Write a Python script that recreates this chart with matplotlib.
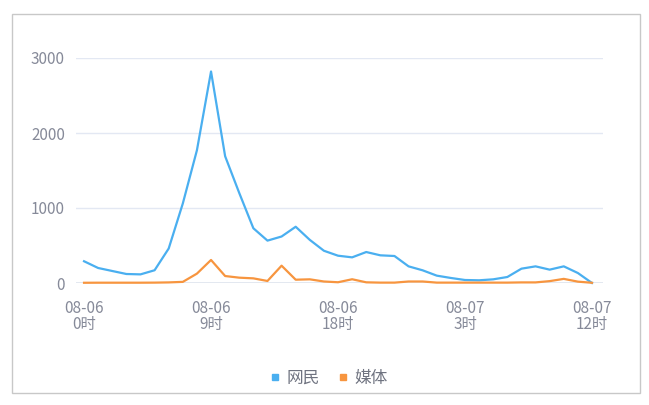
import matplotlib
matplotlib.use("Agg")
import matplotlib.pyplot as plt
from matplotlib.lines import Line2D
from matplotlib.patches import Rectangle

plt.rcParams['font.family'] = ['Noto Sans CJK SC', 'DejaVu Sans']

# hourly counts, 08-06 0时 .. 08-07 12时
hours = list(range(37))
netizens = [290, 200, 160, 120, 115, 170, 460, 1060, 1770, 2820,
            1690, 1200, 730, 565, 620, 750, 575, 430, 364, 342,
            413, 369, 360, 222, 169, 98, 67, 40, 36, 49,
            80, 191, 222, 178, 222, 133, 0]
media = [3, 4, 4, 4, 4, 5, 8, 15, 125, 307,
         93, 71, 62, 27, 231, 44, 49, 20, 10, 50,
         9, 5, 5, 20, 20, 5, 5, 5, 5, 5,
         5, 8, 8, 25, 55, 18, 3]

tick_pos = [0, 9, 18, 27, 36]
tick_labels = ["08-06\n0时", "08-06\n9时", "08-06\n18时", "08-07\n3时", "08-07\n12时"]
yticks = [0, 1000, 2000, 3000]
series_names = ["网民", "媒体"]

BLUE = "#4aaff0"
ORANGE = "#f7953f"
GRID = "#e3e8f3"
TEXT = "#868a99"

W, H = 649, 405
fig = plt.figure(figsize=(W / 100, H / 100), dpi=100)

# outer frame
fig.patches.append(Rectangle((12 / W, 1 - 393 / H), (640 - 12) / W, (393 - 14) / H,
                             transform=fig.transFigure, fill=False,
                             edgecolor="#c8c8c8", linewidth=1))

ax = fig.add_axes([76 / W, 1 - 283 / H, (603 - 76) / W, (283 - 58) / H])
ax.plot(hours, netizens, color=BLUE, linewidth=1.6, clip_on=False, zorder=3)
ax.plot(hours, media, color=ORANGE, linewidth=1.6, clip_on=False, zorder=4)

ax.set_xlim(-0.57, 36.78)
ax.set_ylim(0, 3000)
ax.set_yticks(yticks)
ax.set_xticks(tick_pos)
ax.set_xticklabels(tick_labels, linespacing=0.95)
ax.tick_params(axis="both", length=0, colors=TEXT, labelsize=11)
ax.tick_params(axis="y", pad=8)
ax.tick_params(axis="x", pad=12)
ax.grid(axis="y", color=GRID, linewidth=1)
for s in ax.spines.values():
    s.set_visible(False)
ax.axhline(0, color="#dfe4ee", linewidth=1.2, zorder=1)

handles = [Line2D([], [], marker="s", linestyle="none", color=BLUE, markersize=4.5),
           Line2D([], [], marker="s", linestyle="none", color=ORANGE, markersize=4.5)]
leg = fig.legend(handles, series_names, loc="center", bbox_to_anchor=(327 / W, 1 - 378 / H),
                 ncol=2, frameon=False, fontsize=12, handletextpad=0.2,
                 columnspacing=0.9, handlelength=1.0)
for t in leg.get_texts():
    t.set_color("#6f7380")

fig.savefig("out.png", dpi=100)
